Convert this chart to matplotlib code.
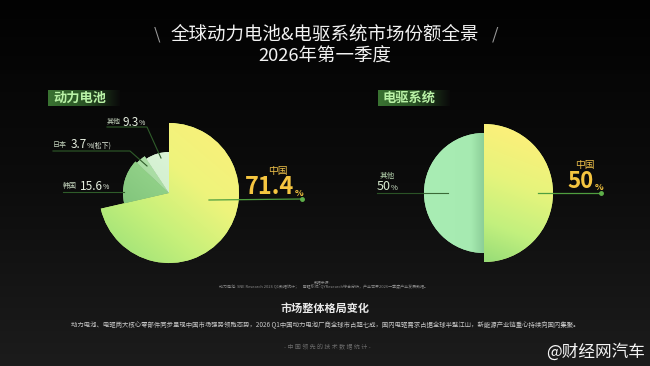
import numpy as np
import matplotlib
matplotlib.use('Agg')
from matplotlib import pyplot as plt
from matplotlib.colors import LinearSegmentedColormap

plt.rcParams['font.family'] = ['Noto Sans CJK SC', 'DejaVu Sans']

title = '全球动力电池&电驱系统市场份额全景'
subtitle = '2026年第一季度'
battery_title = '动力电池'
battery_labels = ['中国', '韩国', '日本', '其他']
battery_share = [71.4, 15.6, 3.7, 9.3]
battery_note = ['', '', '(松下)', '']
motor_title = '电驱系统'
motor_labels = ['中国', '其他']
motor_share = [50, 50]
source_head = '数据来源:'
source_text = '动力电池: SNE Research 2026 Q1数据统计；    电驱系统: QYResearch综合分析，产业世界2026一季度产业发展数据。'
summary_title = '市场整体格局变化'
summary_text = ('动力电池、电驱两大核心零部件同步呈现中国市场强势领跑态势，2026 Q1中国动力电池厂商全球市占超七成，'
                '国内电驱需求占据全球半壁江山，新能源产业链重心持续向国内集聚。')
footer = '- 中 国 领 先 的 技 术 数 据 统 计 -'
watermark = '@财经网汽车'

W, H = 650, 366
fig = plt.figure(figsize=(6.5, 3.66), dpi=100)
ax = fig.add_axes([0, 0, 1, 1])


def py(y):
    # pixel row -> data y
    return H - y


def grad(patch, colors, p0, p1, box, z):
    x0, x1, y0, y1 = box
    X, Y = np.meshgrid(np.linspace(x0, x1, 300), np.linspace(y0, y1, 300))
    d = np.array(p1, float) - np.array(p0, float)
    t = ((X - p0[0]) * d[0] + (Y - p0[1]) * d[1]) / (d @ d)
    cmap = LinearSegmentedColormap.from_list('g', colors)
    im = ax.imshow(np.clip(t, 0, 1), cmap=cmap, vmin=0, vmax=1, extent=[x0, x1, y0, y1],
                   origin='lower', interpolation='bilinear', zorder=z)
    if patch is not None:
        im.set_clip_path(patch)
    return im


# background
bg = LinearSegmentedColormap.from_list('bg', ['#020202', '#0c0c0c', '#1c1c1c'])
ax.imshow(np.linspace(0, 1, 256).reshape(-1, 1), cmap=bg, extent=[0, W, 0, H],
          origin='upper', aspect='auto', zorder=0)

# titles
ax.text(W / 2, py(35), title, ha='center', va='center', fontsize=13.3, color='#f2f2f2', fontweight='medium')
ax.text(157, py(35), '\\', ha='center', va='center', fontsize=12, color='#9a9a9a')
ax.text(495, py(35), '/', ha='center', va='center', fontsize=12, color='#9a9a9a')
ax.text(W / 2, py(57), subtitle, ha='center', va='center', fontsize=13.3, color='#f2f2f2', fontweight='medium')

# section tags
for x0, txt in [(48, battery_title), (378, motor_title)]:
    fade = np.linspace(0, 1, 200).reshape(1, -1)
    cm = LinearSegmentedColormap.from_list('tag', ['#3a7332', '#2a5425', '#0a0a0a'])
    ax.imshow(fade, cmap=cm, extent=[x0, x0 + 72, py(106), py(90)], aspect='auto', zorder=1)
    ax.text(x0 + 5, py(98), txt, ha='left', va='center', fontsize=9.5, color='#b9f2a6', fontweight='bold', zorder=2)

# ---- battery pie ----
c1 = (169, py(193))
w1, _ = ax.pie(battery_share, startangle=90, counterclock=False, center=c1, radius=70,
               frame=True, wedgeprops=dict(linewidth=0))
radii1 = [70, 46, 44, 41]
cols1 = [['#9ee27a', '#c6f07a', '#eef47c', '#f9f07a'],
         ['#6fb86e', '#8fcf86', '#a6dc98'],
         ['#8cc98a', '#a8dca2', '#c2e8bb'],
         ['#b4e4b4', '#d2f0cf', '#e8f8e4']]
for w, r, cl in zip(w1, radii1, cols1):
    w.set_radius(r)
    w.set_facecolor(cl[1])
    grad(w, cl, (c1[0] - 60, c1[1] - 60), (c1[0] + 45, c1[1] + 65),
         [c1[0] - 75, c1[0] + 75, c1[1] - 75, c1[1] + 75], 3)

line_dark = '#2f5c2a'
# 其他
ax.plot([107, 147, 161], [py(127), py(127), py(158)], color=line_dark, lw=0.8, zorder=4)
ax.text(107, py(122), battery_labels[3], ha='left', va='center', fontsize=5, color='#c6d6bf', zorder=5)
ax.text(139, py(122), f'{battery_share[3]}', ha='right', va='center', fontsize=8.5, color='#e6efe0', zorder=5)
ax.text(139, py(123), '%' + battery_note[3], ha='left', va='center', fontsize=5, color='#e6efe0', zorder=5)
# 日本
ax.plot([53, 130, 147], [py(151), py(151), py(166)], color=line_dark, lw=0.8, zorder=4)
ax.text(53, py(145), battery_labels[2], ha='left', va='center', fontsize=5, color='#c6d6bf', zorder=5)
ax.text(87, py(145), f'{battery_share[2]}', ha='right', va='center', fontsize=8.5, color='#e6efe0', zorder=5)
ax.text(87, py(146), '%' + battery_note[2], ha='left', va='center', fontsize=5, color='#e6efe0', zorder=5)
# 韩国
ax.plot([63, 124], [py(192), py(192)], color=line_dark, lw=0.8, zorder=4)
ax.text(63, py(186), battery_labels[1], ha='left', va='center', fontsize=5, color='#c6d6bf', zorder=5)
ax.text(103, py(186), f'{battery_share[1]}', ha='right', va='center', fontsize=8.5, color='#e6efe0', zorder=5)
ax.text(103, py(187), '%' + battery_note[1], ha='left', va='center', fontsize=5, color='#e6efe0', zorder=5)
# 中国
ax.plot([209, 302], [py(200), py(199)], color='#4f9e3f', lw=0.9, zorder=4)
ax.plot([302], [py(199)], 'o', ms=2.5, color='#5fb04a', zorder=5)
ax.text(278, py(171), battery_labels[0], ha='center', va='center', fontsize=7, color='#f0c24a', zorder=5)
ax.text(294, py(187), f'{battery_share[0]}', ha='right', va='center', fontsize=17, color='#f5c540',
        fontweight='bold', zorder=5)
ax.text(295, py(193), '%', ha='left', va='center', fontsize=6.5, color='#f5c540', fontweight='bold', zorder=5)

# ---- motor pie ----
c2 = (484, py(193))
w2, _ = ax.pie(motor_share, startangle=90, counterclock=False, center=c2, radius=69,
               frame=True, wedgeprops=dict(linewidth=0))
radii2 = [69, 60]
w2[0].set_radius(radii2[0])
w2[0].set_facecolor('#d8f47c')
grad(w2[0], ['#8ed876', '#c2f07e', '#e6f47c', '#fbf07a'], (c2[0] - 20, c2[1] - 70), (c2[0] + 30, c2[1] + 60),
     [c2[0], c2[0] + 72, c2[1] - 72, c2[1] + 72], 3)
w2[1].set_radius(radii2[1])
w2[1].set_facecolor('#a8ecb4')
grad(w2[1], [(0, '#a9edb4'), (0.78, '#a6eab1'), (1, '#8ccf98')], (c2[0] - 60, c2[1]), (c2[0], c2[1]),
     [c2[0] - 62, c2[0], c2[1] - 62, c2[1] + 62], 3)

ax.plot([377, 448], [py(193), py(193)], color=line_dark, lw=0.8, zorder=4, alpha=0.9)
ax.text(387, py(176), motor_labels[1], ha='center', va='center', fontsize=5.5, color='#b8d6b0', zorder=5)
ax.text(391, py(187), f'{motor_share[1]}', ha='right', va='center', fontsize=9, color='#d8ecd0', zorder=5)
ax.text(391, py(188), '%', ha='left', va='center', fontsize=5.5, color='#d8ecd0', zorder=5)

ax.plot([538, 601], [py(193), py(193)], color='#4f9e3f', lw=0.9, zorder=4)
ax.plot([601], [py(193)], 'o', ms=2.5, color='#5fb04a', zorder=5)
ax.text(585, py(165), motor_labels[0], ha='center', va='center', fontsize=7, color='#f0c24a', zorder=5)
ax.text(594, py(182), f'{motor_share[0]}', ha='right', va='center', fontsize=16, color='#f5c540',
        fontweight='bold', zorder=5)
ax.text(595, py(187), '%', ha='left', va='center', fontsize=6.5, color='#f5c540', fontweight='bold', zorder=5)

# ---- bottom text ----
ax.text(322, py(282), source_head, ha='center', va='center', fontsize=2.8, color='#8a8a8a')
ax.text(324, py(286.5), source_text, ha='center', va='center', fontsize=2.9, color='#8a8a8a')
ax.text(W / 2, py(308), summary_title, ha='center', va='center', fontsize=8, color='#e8e8e8', fontweight='bold')
ax.text(W / 2, py(325), summary_text, ha='center', va='center', fontsize=4.6, color='#c8c8c8')
ax.text(327, py(347), footer, ha='center', va='center', fontsize=4.3, color='#6a6a6a')
ax.text(645, py(352), watermark, ha='right', va='center', fontsize=12, color='#f4f4f4')

ax.set_xlim(0, W)
ax.set_ylim(0, H)
ax.set_aspect('auto')
ax.axis('off')
fig.savefig('out.png', dpi=100, facecolor='#050505')
